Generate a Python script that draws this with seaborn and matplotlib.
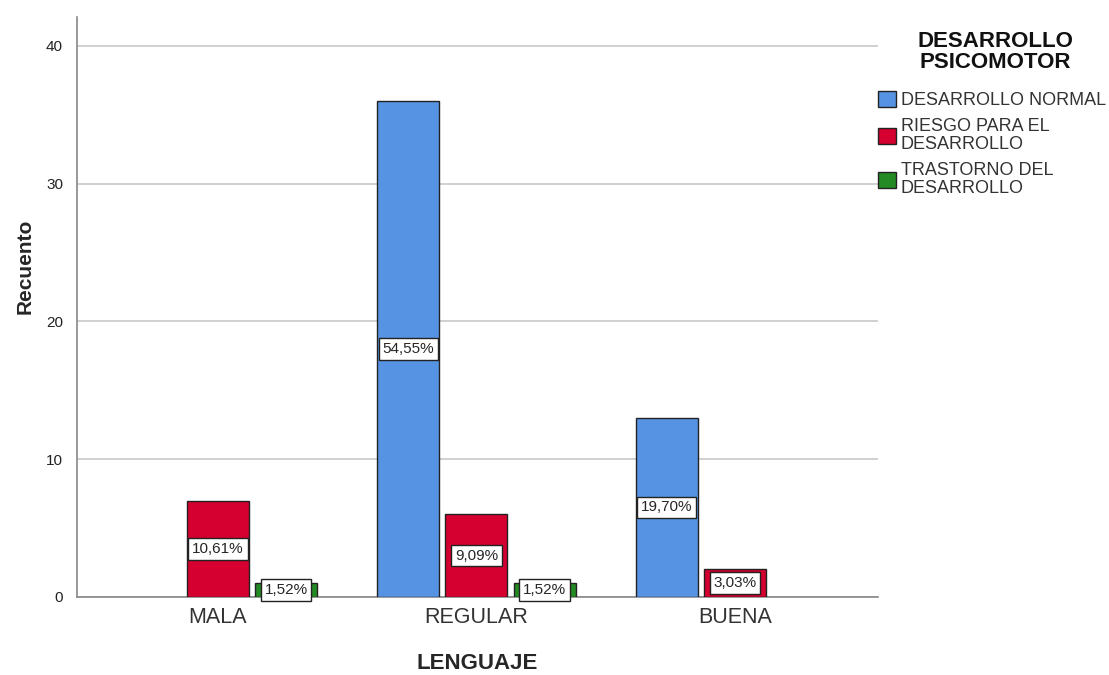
import matplotlib
matplotlib.use('Agg')
import matplotlib.pyplot as plt
import pandas as pd
import seaborn as sns

# Data
lenguaje = ['MALA', 'REGULAR', 'BUENA']
desarrollo = ['DESARROLLO NORMAL', 'RIESGO PARA EL\nDESARROLLO', 'TRASTORNO DEL\nDESARROLLO']
normal = [None, 36, 13]
riesgo = [7, 6, 2]
trastorno = [1, 1, None]
total = 66

colors = ['#5694E3', '#D5002F', '#248A24']

rows = []
for series, vals in zip(desarrollo, [normal, riesgo, trastorno]):
  for cat, v in zip(lenguaje, vals):
    if v is not None:
      rows.append({'LENGUAJE': cat, 'grupo': series, 'Recuento': v})
df = pd.DataFrame(rows)

sns.set_style('white')
plt.rcParams['font.family'] = ['Liberation Sans', 'DejaVu Sans']

fig = plt.figure(figsize=(11.09, 6.75), dpi=100)
ax = fig.add_axes([0.0694, 0.1156, 0.7223, 0.8592])

sns.barplot(data=df, x='LENGUAJE', y='Recuento', hue='grupo',
            order=lenguaje, hue_order=desarrollo, palette=colors,
            width=0.79, gap=0.09, edgecolor='#222222', linewidth=1,
            saturation=1, ax=ax, zorder=3)

# Percent labels in white boxes at the middle of each bar
for container in ax.containers:
  for bar in container:
    h = bar.get_height()
    if h != h or h <= 0:
      continue
    ax.text(bar.get_x() + bar.get_width() / 2, h / 2,
            '{:.2f}%'.format(h / total * 100).replace('.', ','),
            ha='center', va='center', fontsize=11, zorder=5,
            bbox=dict(boxstyle='square,pad=0.25', fc='white', ec='#222222', lw=1))

ax.set_ylim(0, 42.1)
ax.set_xlim(-0.545, 2.553)
ax.set_yticks([0, 10, 20, 30, 40])
ax.yaxis.grid(True, color='#c8c8c8', linewidth=1.2, zorder=0)
ax.set_axisbelow(True)
ax.tick_params(axis='y', labelsize=11, length=0, pad=10, colors='#222222')
ax.tick_params(axis='x', labelsize=15.5, length=0, pad=7, colors='#333333')
for s in ['top', 'right']:
  ax.spines[s].set_visible(False)
for s in ['left', 'bottom']:
  ax.spines[s].set_color('#888888')
  ax.spines[s].set_linewidth(1.2)

ax.set_xlabel('LENGUAJE', fontsize=16, fontweight='bold')
ax.set_ylabel('Recuento', fontsize=15, fontweight='bold')
ax.xaxis.set_label_coords(0.5, -0.097)
ax.yaxis.set_label_coords(-0.053, 0.57)

# Legend title drawn separately, entries below it
fig.text(0.8972, 0.9237, 'DESARROLLO\nPSICOMOTOR', ha='center', va='center',
         fontsize=16, fontweight='bold', linespacing=1.0, color='#111111')
leg = ax.legend(loc='upper left', bbox_to_anchor=(0.7917, 0.865),
                bbox_transform=fig.transFigure, frameon=False, fontsize=13,
                handlelength=1.0, handleheight=1.0, handletextpad=0.25,
                labelspacing=0.5, borderaxespad=0.0, borderpad=0.0)
for t in leg.get_texts():
  t.set_color('#333333')
  t.set_linespacing(1.05)
for hnd in leg.legend_handles:
  hnd.set_edgecolor('#222222')

fig.savefig('out.png', dpi=100)
